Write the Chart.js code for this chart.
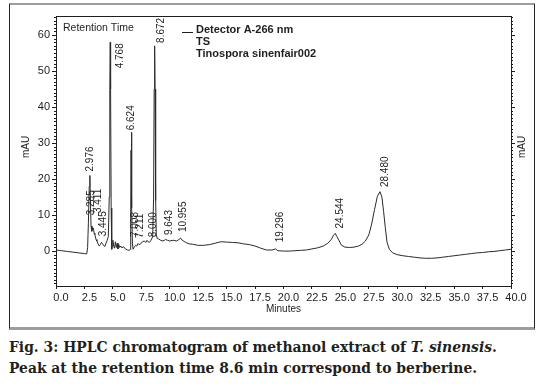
<!DOCTYPE html>
<html><head><meta charset="utf-8">
<script src="https://cdn.jsdelivr.net/npm/chart.js@4/dist/chart.umd.min.js"></script>
<style>
html,body{margin:0;padding:0;background:#fff;width:541px;height:389px;overflow:hidden}
#frame{position:absolute;left:9px;top:3px;width:526px;height:327px;border-top:2px solid #9d9d9d;border-bottom:3px solid #9d9d9d;border-left:1px solid #222;border-right:1px solid #222;box-sizing:border-box}
#c{position:absolute;left:0;top:0}
#cap{position:absolute;left:9px;top:337px;font-family:'DejaVu Serif',serif;font-weight:bold;font-size:13.9px;line-height:21px;color:#231f20;white-space:nowrap}
</style></head>
<body>
<div id="frame"></div>
<canvas id="c" width="541" height="330"></canvas>
<div id="cap">Fig. 3: HPLC chromatogram of methanol extract of <i>T. sinensis</i>.<br>Peak at the retention time 8.6 min correspond to berberine.</div>
<script>
// ---- data ----
const times = [0.0,0.5,1.0,1.5,2.0,2.5,2.7,2.78,2.85,2.92,2.976,3.02,3.08,3.15,3.22,3.285,3.35,3.411,3.445,3.52,3.6,3.7,3.8,3.9,4.0,4.1,4.2,4.3,4.4,4.5,4.6,4.68,4.73,4.768,4.8,4.85,4.9,4.95,5.0,5.08,5.15,5.22,5.3,5.38,5.45,5.52,5.6,5.7,5.8,5.95,6.1,6.3,6.45,6.52,6.57,6.6,6.624,6.65,6.68,6.72,6.78,6.9,7.008,7.1,7.211,7.3,7.45,7.6,7.75,7.9,8.0,8.1,8.2,8.35,8.5,8.58,8.63,8.672,8.71,8.76,8.82,8.9,9.0,9.2,9.4,9.643,9.8,10.0,10.3,10.6,10.8,10.955,11.1,11.4,11.7,12.0,12.5,13.0,13.5,14.0,14.5,15.0,15.5,16.0,16.5,17.0,17.5,18.0,18.5,19.0,19.296,19.5,20.0,20.5,21.0,21.5,22.0,22.5,23.0,23.5,23.9,24.2,24.4,24.544,24.7,24.9,25.1,25.4,25.8,26.2,26.6,26.9,27.2,27.5,27.75,28.0,28.25,28.48,28.65,28.8,28.95,29.1,29.3,29.6,30.0,30.5,31.0,31.5,32.0,32.5,33.0,33.5,34.0,34.5,35.0,35.5,36.0,36.5,37.0,37.5,38.0,38.5,39.0,39.5,40.0];
const mAU = [0.3,0.1,-0.1,-0.3,-0.5,-0.7,-0.8,1.0,8,18,21,15,7,5.5,6.6,6.4,5,4.6,4.2,3.2,2.8,2.0,1.4,1.8,2.4,2.0,1.5,1.3,2.2,3.0,4.0,15,45,58,45,12,0.5,1.5,3.0,1.2,0.8,2.6,1.0,2.2,0.6,1.8,1.0,1.4,0.9,1.2,0.6,0.3,0.2,0.5,12,28,33,28,12,2,0.5,1.2,1.6,1.4,2.1,1.8,2.0,2.6,2.8,2.4,3.0,2.6,2.4,3.0,4,15,45,57,45,14,4.5,3.5,3.4,3.0,2.8,3.2,3.0,2.8,3.0,2.8,3.2,3.6,3.0,2.4,2.0,1.9,1.6,1.6,1.8,2.2,2.6,2.5,2.4,2.3,2.0,1.8,1.4,0.8,0.3,0.3,0.6,0.1,0.0,0.0,0.1,0.2,0.3,0.6,0.9,1.4,2.2,3.2,4.4,4.9,4.0,2.8,1.6,1.1,1.0,1.1,1.4,1.9,2.8,4.5,7.5,11.5,15.2,16.5,15.0,11,6.5,2.5,0.5,-0.5,-1.0,-1.3,-1.5,-1.7,-1.9,-2.0,-2.0,-1.9,-1.7,-1.5,-1.3,-1.1,-0.9,-0.7,-0.5,-0.4,-0.2,-0.1,0.1,0.3,0.5];
const peakTimes = [2.976,3.285,3.411,3.445,4.768,6.624,7.008,7.211,8.000,8.672,9.643,10.955,19.296,24.544,28.480];
const peakHeights = [21,6.6,5,3,58,33,1.5,2,3,57,3.2,3.6,0.5,4.9,16.5];
const xTicks = [0,2.5,5,7.5,10,12.5,15,17.5,20,22.5,25,27.5,30,32.5,35,37.5,40];
const yTicks = [0,10,20,30,40,50,60];
const legendLines = ['Detector A-266 nm','TS','Tinospora sinenfair002'];
const yTitle = 'mAU', xTitle = 'Minutes', corner = 'Retention Time';

// ---- label placement styling (px) ----
const labelDx  = [0,-2,3,8,10,0,0,2.5,6,7,4,3,5,5,5.5];
const labelGap = [4,12,20,4,-26,2,8.6,6,3,3,4.5,6,7,5,4.6];

const FONT = "'Liberation Sans', Arial, sans-serif";
const INK = '#1e1e1e';

const deco = {
  id: 'deco',
  afterDraw(chart) {
    const ctx = chart.ctx, a = chart.chartArea;
    const xs = chart.scales.x, ys = chart.scales.y;
    ctx.save();
    ctx.strokeStyle = INK; ctx.lineWidth = 1;
    ctx.beginPath(); ctx.moveTo(a.left, a.top + 0.5); ctx.lineTo(a.right, a.top + 0.5); ctx.stroke();
    ctx.beginPath();
    for (let v = Math.ceil(ys.min); v <= ys.max; v++) {
      if (v % 10 === 0) continue;
      const py = Math.round(ys.getPixelForValue(v)) + 0.5;
      ctx.moveTo(a.left - 2, py); ctx.lineTo(a.left, py);
      ctx.moveTo(a.right, py); ctx.lineTo(a.right + 2, py);
    }
    ctx.stroke();
    ctx.fillStyle = INK;
    ctx.font = '10px ' + FONT;
    ctx.textAlign = 'left'; ctx.textBaseline = 'middle';
    peakTimes.forEach((t, i) => {
      const px = xs.getPixelForValue(t) + labelDx[i];
      const py = ys.getPixelForValue(peakHeights[i]) - labelGap[i];
      ctx.save(); ctx.translate(px, py); ctx.rotate(-Math.PI / 2);
      ctx.fillText(t.toFixed(3), 0, 0); ctx.restore();
    });
    ctx.font = '10px ' + FONT;
    ctx.textAlign = 'center';
    const cy = (a.top + a.bottom) / 2 - 4;
    [26, 522].forEach(x => { ctx.save(); ctx.translate(x, cy); ctx.rotate(-Math.PI / 2); ctx.fillText(yTitle, 0, 0); ctx.restore(); });
    ctx.fillText(xTitle, (a.left + a.right) / 2, 309);
    ctx.textAlign = 'left';
    ctx.font = '10.5px ' + FONT;
    ctx.fillText(corner, 63, 28);
    ctx.beginPath(); ctx.moveTo(182, 32.5); ctx.lineTo(193, 32.5); ctx.stroke();
    ctx.font = 'bold 11px ' + FONT;
    legendLines.forEach((s, i) => ctx.fillText(s, 196, 30 + i * 12));
    ctx.restore();
  }
};

new Chart(document.getElementById('c'), {
  type: 'line',
  data: { datasets: [{
    data: times.map((t, i) => ({ x: t, y: mAU[i] })),
    borderColor: '#2a2a2a', borderWidth: 1, pointRadius: 0, tension: 0
  }]},
  options: {
    responsive: false, animation: false, devicePixelRatio: 1,
    layout: { padding: { top: 16, left: 0, right: 0, bottom: 0 } },
    plugins: { legend: { display: false }, tooltip: { enabled: false } },
    scales: {
      x: {
        type: 'linear', min: 0, max: 40, position: 'bottom',
        afterBuildTicks: s => { s.ticks = xTicks.map(v => ({ value: v })); },
        afterFit: s => { s.height = 44; },
        ticks: { callback: v => v.toFixed(1), font: { size: 11, family: FONT }, color: INK, padding: 2, maxRotation: 0, labelOffset: 5, autoSkip: false },
        grid: { drawOnChartArea: false, tickLength: 3, color: INK },
        border: { color: INK }
      },
      y: {
        min: -9.7, max: 65.3, position: 'left',
        afterBuildTicks: s => { s.ticks = yTicks.map(v => ({ value: v })); },
        afterFit: s => { s.width = 56; },
        ticks: { font: { size: 11, family: FONT }, color: INK, padding: 2 },
        grid: { drawOnChartArea: false, tickLength: 4, color: INK },
        border: { color: INK }
      },
      y2: {
        min: -9.7, max: 65.3, position: 'right',
        afterBuildTicks: s => { s.ticks = yTicks.map(v => ({ value: v })); },
        afterFit: s => { s.width = 30; },
        ticks: { callback: () => '' },
        grid: { drawOnChartArea: false, tickLength: 4, color: INK },
        border: { color: INK }
      }
    }
  },
  plugins: [deco]
});
</script>
</body></html>
